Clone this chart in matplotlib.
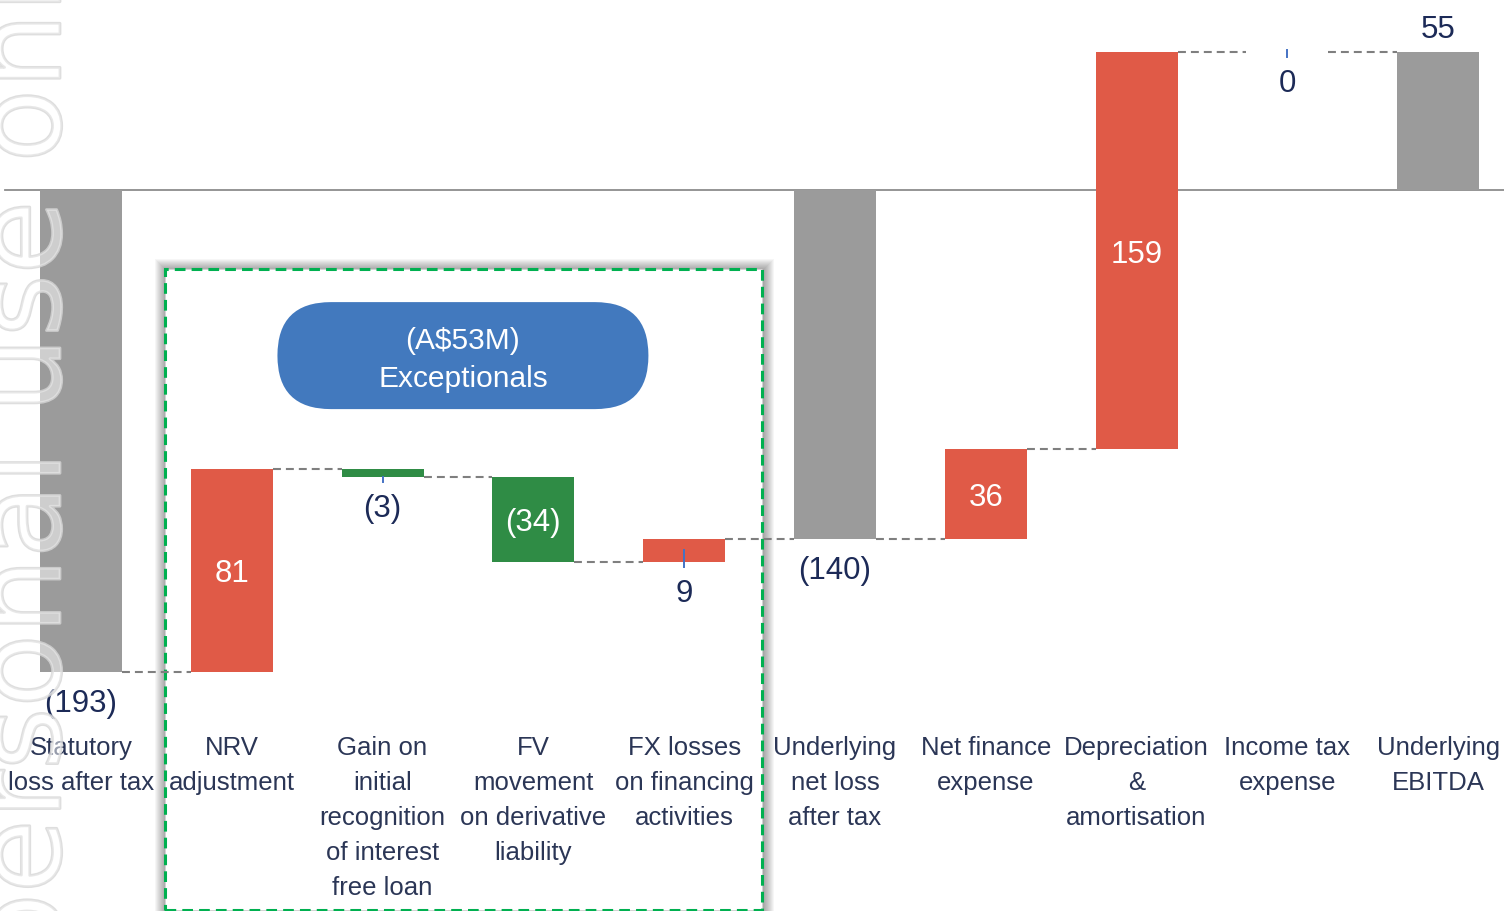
import matplotlib
matplotlib.use('Agg')
import matplotlib.pyplot as plt
from matplotlib.patches import Rectangle, FancyBboxPatch
from matplotlib.transforms import IdentityTransform, blended_transform_factory
import matplotlib.patheffects as pe

# ---------------- data ----------------
categories = [
    "Statutory\nloss after tax",
    "NRV\nadjustment",
    "Gain on\ninitial\nrecognition\nof interest\nfree loan",
    "FV\nmovement\non derivative\nliability",
    "FX losses\non financing\nactivities",
    "Underlying\nnet loss\nafter tax",
    "Net finance\nexpense",
    "Depreciation\n&\namortisation",
    "Income tax\nexpense",
    "Underlying\nEBITDA",
]
values = [-193, 81, -3, -34, 9, -140, 36, 159, 0, 55]
is_total = [True, False, False, False, False, True, False, False, False, True]
label_pos = ["below", "inside", "below", "inside", "below",
             "below", "inside", "inside", "below", "above"]
exceptional_text = "(A$53M)\nExceptionals"
watermark_text = "For personal use only"

# ---------------- style ----------------
C_TOTAL = "#9B9B9B"
C_POS = "#E05A47"
C_NEG = "#2F8C45"
C_BLUE = "#4279BE"
C_GREENBOX = "#00B050"
C_VAL = "#1C2A57"
C_CAT = "#2B3656"
C_CONN = "#7F7F7F"
FONT = "Liberation Sans"

W, H = 1504, 912
fig = plt.figure(figsize=(W / 100, H / 100), dpi=100)
ax = fig.add_axes([0, 0, 1, 1])
ax.set_xlim(-0.537, 9.437)
ax.set_ylim(-288.9, 76.3)
ax.axis("off")

bw = 0.544

# waterfall geometry
starts, ends = [], []
running = 0
for v, t in zip(values, is_total):
    if t:
        s, e = 0, v
    else:
        s, e = running, running + v
    running = e
    starts.append(s)
    ends.append(e)

# ---------------- exceptionals box ----------------
box_x0, box_x1 = 0.557, 4.516
box_y0, box_y1 = -288.6, -32.0
rect = Rectangle((box_x0, box_y0), box_x1 - box_x0, box_y1 - box_y0,
                 facecolor="white", edgecolor=C_GREENBOX, lw=2.2,
                 linestyle=(0, (3.5, 2.0)), zorder=1.5)
ax.add_patch(rect)
fig.canvas.draw()
(dx0, dy0) = ax.transData.transform((box_x0, box_y0))
(dx1, dy1) = ax.transData.transform((box_x1, box_y1))
for k in range(1, 12):
    ax.add_patch(Rectangle((dx0 - k + 1, dy0 - k), (dx1 - dx0) + 2 * k, (dy1 - dy0) + 2 * k - 1,
                           transform=IdentityTransform(), facecolor="black",
                           edgecolor="none", alpha=0.035, zorder=1.0))

# blue pill
cx, cy = ax.transData.transform((2.533, -66.5))
pw, ph = 371, 107
pill = FancyBboxPatch((cx - pw / 2, cy - ph / 2), pw, ph,
                      boxstyle=f"round,pad=0,rounding_size={ph/2}",
                      transform=IdentityTransform(), facecolor=C_BLUE,
                      edgecolor="none", zorder=2)
ax.add_patch(pill)
ax.text(cx, cy - 3, exceptional_text, transform=IdentityTransform(),
        ha="center", va="center", color="white", fontsize=21.5,
        family=FONT, linespacing=1.45, zorder=3)

# zero line
ax.axhline(0, xmin=5 / W, xmax=1, color="#8C8C8C", lw=1.3, zorder=2.5)

# ---------------- bars ----------------
for i, (v, t, s, e) in enumerate(zip(values, is_total, starts, ends)):
    col = C_TOTAL if t else (C_POS if v >= 0 else C_NEG)
    ax.bar(i, e - s, bottom=s, width=bw, color=col, edgecolor="none", zorder=3)

# connectors
for i in range(len(values) - 1):
    ax.plot([i + bw / 2, i + 1 - bw / 2], [ends[i], ends[i]], color=C_CONN,
            lw=1.5, dashes=(3.8, 2.4), zorder=4)

# small leader ticks on small increments
for i, (v, t, s, e) in enumerate(zip(values, is_total, starts, ends)):
    if not t and label_pos[i] == "below":
        mid = (s + e) / 2 if abs(v) > 4 else min(s, e) + (1 if v == 0 else 0)
        ax.plot([i, i], [mid, min(s, e) - 2.0], color="#4472C4", lw=1.4, zorder=4.5)

# value labels
def fmt(v):
    return f"({abs(v)})" if v < 0 else f"{v}"

for i, (v, s, e) in enumerate(zip(values, starts, ends)):
    pos = label_pos[i]
    if pos == "inside":
        ax.annotate(fmt(v), xy=(i, (s + e) / 2), xytext=(0, -3), textcoords="offset pixels",
                    ha="center", va="center", color="white", fontsize=22.5,
                    family=FONT, zorder=6)
    elif pos == "below":
        ax.annotate(fmt(v), xy=(i, min(s, e)), xytext=(0, -31), textcoords="offset pixels",
                    ha="center", va="center", color=C_VAL, fontsize=22.5,
                    family=FONT, zorder=6)
    else:
        ax.annotate(fmt(v), xy=(i, max(s, e)), xytext=(0, 23), textcoords="offset pixels",
                    ha="center", va="center", color=C_VAL, fontsize=22.5,
                    family=FONT, zorder=6)

# category labels
btrans = blended_transform_factory(ax.transData, ax.transAxes)
for i, cat in enumerate(categories):
    for k, line in enumerate(cat.split("\n")):
        ypx = 755 + 35.1 * k
        ax.text(i, 1 - ypx / H, line, transform=btrans, ha="center", va="baseline",
                fontsize=18.5, color=C_CAT, family=FONT, zorder=6)

# watermark
ax.text(60, H - (430 + 786) + 20, watermark_text, transform=IdentityTransform(),
        rotation=90, rotation_mode="anchor", ha="left", va="baseline",
        fontsize=86.4, family="DejaVu Sans", color=(1, 1, 1, 0.3),
        path_effects=[pe.Stroke(linewidth=2.0, foreground=(0.84, 0.84, 0.84, 0.8)), pe.Normal()],
        zorder=10)

fig.savefig("out.png", dpi=100)
